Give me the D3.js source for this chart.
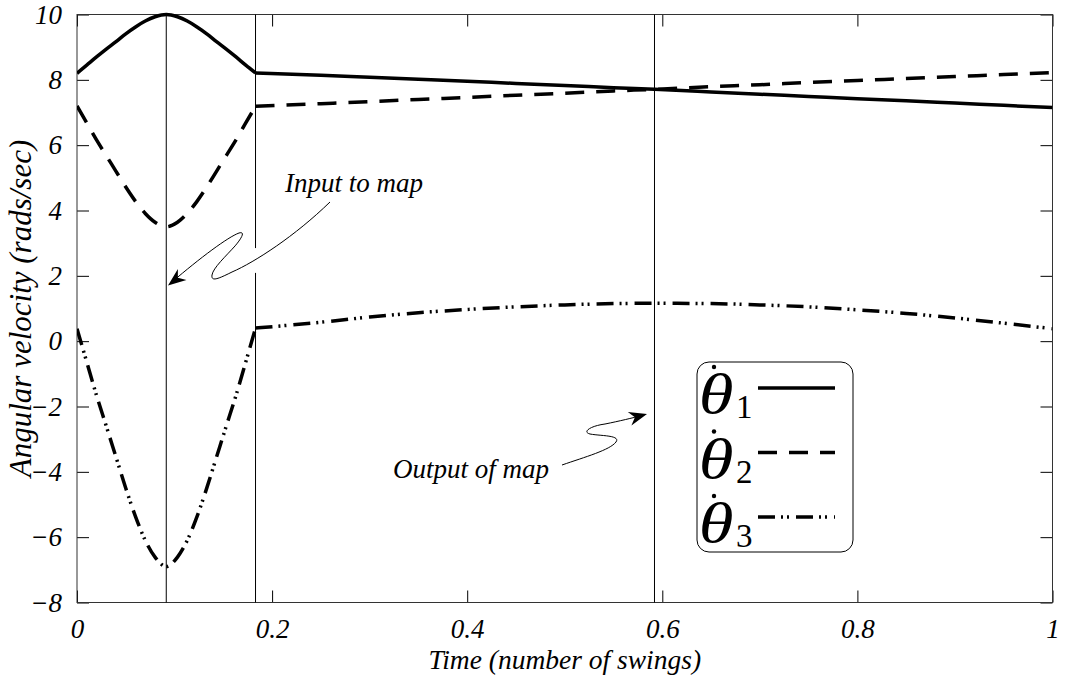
<!DOCTYPE html>
<html>
<head>
<meta charset="utf-8">
<script src="https://cdn.jsdelivr.net/npm/d3@7"></script>
<style>
  body { margin: 0; background: #fff; }
  svg { display: block; }
</style>
</head>
<body>
<svg id="chart" width="1068" height="681"></svg>
<script>
// Time axis samples (number of swings)
const time = [0, 0.01, 0.02, 0.03, 0.04, 0.05, 0.06, 0.07, 0.08, 0.0915,
  0.103, 0.113, 0.123, 0.133, 0.143, 0.153, 0.163, 0.173, 0.183,
  0.25, 0.3, 0.35, 0.4, 0.45, 0.5, 0.55, 0.592, 0.65, 0.7, 0.75, 0.8, 0.85, 0.9, 0.95, 1.0];

// Angular velocities (rads/sec)
const theta1 = [8.20, 8.45, 8.70, 8.94, 9.17, 9.41, 9.62, 9.80, 9.93, 10.0,
  9.93, 9.80, 9.62, 9.41, 9.17, 8.94, 8.70, 8.45, 8.21,
  8.14, 8.08, 8.02, 7.96, 7.89, 7.83, 7.76, 7.71, 7.63, 7.56, 7.49, 7.42, 7.36, 7.29, 7.22, 7.15];
const theta2 = [7.20, 6.68, 6.16, 5.68, 5.20, 4.72, 4.28, 3.91, 3.64, 3.50,
  3.64, 3.91, 4.28, 4.72, 5.20, 5.68, 6.16, 6.68, 7.19,
  7.27, 7.33, 7.40, 7.46, 7.53, 7.59, 7.66, 7.71, 7.79, 7.85, 7.92, 7.98, 8.04, 8.10, 8.16, 8.22];
const theta3 = [0.38, -0.64, -1.66, -2.60, -3.55, -4.50, -5.37, -6.10, -6.61, -6.90,
  -6.61, -6.10, -5.37, -4.50, -3.55, -2.60, -1.66, -0.64, 0.40,
  0.58, 0.74, 0.87, 0.97, 1.05, 1.11, 1.15, 1.16, 1.15, 1.11, 1.05, 0.96, 0.85, 0.71, 0.55, 0.38];

const seriesLabels = ["1", "2", "3"];
const xTicks = [0, 0.2, 0.4, 0.6, 0.8, 1];
const yTicks = [-8, -6, -4, -2, 0, 2, 4, 6, 8, 10];

// Event times marked with vertical lines; the impact splits each curve
const markerTimes = [0.0915, 0.183, 0.592];
const impactTime = 0.183;
// Break in the impact line where the annotation arrow passes (in rads/sec)
const impactGap = [2.09, 2.85];

const FONT = '"Liberation Serif", "Times New Roman", serif';
const svg = d3.select("#chart");
const m = { left: 77, right: 1052.5, top: 14.5, bottom: 602.5 };

const x = d3.scaleLinear().domain([0, 1]).range([m.left, m.right]);
const y = d3.scaleLinear().domain([-8, 10]).range([m.bottom, m.top]);
const fmt = d3.format("~g");

// Axes with inward ticks on all four sides
function styleAxis(g) {
  g.select(".domain").remove();
  g.attr("font-family", FONT).attr("font-size", 27);
  g.selectAll(".tick line").attr("stroke", "#000").attr("stroke-width", 1);
  g.selectAll(".tick text").attr("font-style", "italic").attr("fill", "#000");
}
svg.append("g").attr("transform", `translate(${m.left},0)`)
  .call(d3.axisLeft(y).tickValues(yTicks).tickFormat(fmt).tickSizeInner(-12).tickSizeOuter(0).tickPadding(15))
  .call(styleAxis);
svg.append("g").attr("transform", `translate(${m.right},0)`)
  .call(d3.axisRight(y).tickValues(yTicks).tickFormat("").tickSizeInner(-12).tickSizeOuter(0))
  .call(styleAxis);
svg.append("g").attr("transform", `translate(0,${m.bottom})`)
  .call(d3.axisBottom(x).tickValues(xTicks).tickFormat(fmt).tickSizeInner(-12).tickSizeOuter(0).tickPadding(16))
  .call(styleAxis);
svg.append("g").attr("transform", `translate(0,${m.top})`)
  .call(d3.axisTop(x).tickValues(xTicks).tickFormat("").tickSizeInner(-12).tickSizeOuter(0))
  .call(styleAxis);

// Plot frame
svg.append("rect")
  .attr("x", m.left).attr("y", m.top)
  .attr("width", m.right - m.left).attr("height", m.bottom - m.top)
  .attr("fill", "none").attr("stroke", "#333").attr("stroke-width", 1);

// Axis titles
svg.append("text")
  .attr("x", (m.left + m.right) / 2).attr("y", 669)
  .attr("text-anchor", "middle")
  .attr("font-family", FONT).attr("font-style", "italic").attr("font-size", 27.5)
  .text("Time (number of swings)");
svg.append("text")
  .attr("transform", `translate(31,${(m.top + m.bottom) / 2}) rotate(-90)`)
  .attr("text-anchor", "middle")
  .attr("font-family", FONT).attr("font-style", "italic").attr("font-size", 31)
  .text("Angular velocity (rads/sec)");

// Vertical event lines
markerTimes.forEach(t => {
  const pieces = t === impactTime
    ? [[10, impactGap[1]], [impactGap[0], -8]]
    : [[10, -8]];
  pieces.forEach(([a, b]) => {
    svg.append("line")
      .attr("x1", x(t)).attr("x2", x(t))
      .attr("y1", y(a)).attr("y2", y(b))
      .attr("stroke", "#000").attr("stroke-width", 1);
  });
});

// Curves
svg.append("clipPath").attr("id", "plot-clip")
  .append("rect").attr("x", m.left).attr("y", m.top - 3)
  .attr("width", m.right - m.left).attr("height", m.bottom - m.top + 3);

const styles = [
  { values: theta1, dash: null },
  { values: theta2, dash: "19,12" },
  { values: theta3, dash: "17,6,2,4,2,7" }
];
const line = d3.line().x(d => x(d[0])).y(d => y(d[1])).curve(d3.curveMonotoneX);
const plot = svg.append("g").attr("clip-path", "url(#plot-clip)");
styles.forEach(s => {
  const pts = time.map((t, i) => [t, s.values[i]]);
  const segs = [pts.filter(p => p[0] <= impactTime), pts.filter(p => p[0] >= impactTime)];
  segs.forEach(seg => {
    plot.append("path")
      .attr("d", line(seg))
      .attr("fill", "none").attr("stroke", "#000")
      .attr("stroke-width", 3.5)
      .attr("stroke-dasharray", s.dash)
      .attr("stroke-linejoin", "round");
  });
});

// Annotations
function arrowHead(tx, ty, angleDeg) {
  svg.append("path")
    .attr("d", "M0,0 L-18,-7 L-12.5,0 L-18,7 Z")
    .attr("transform", `translate(${tx},${ty}) rotate(${angleDeg})`)
    .attr("fill", "#000");
}
svg.append("text")
  .attr("x", 285).attr("y", 192)
  .attr("font-family", FONT).attr("font-style", "italic").attr("font-size", 27)
  .text("Input to map");
svg.append("path")
  .attr("d", "M330,202 C295,236 255,262 232,272 C218,279 211,282 212,275 C213,268 226,256 235,246 C241,239 246,231 239,233 C228,237 200,258 172,282")
  .attr("fill", "none").attr("stroke", "#000").attr("stroke-width", 1);
arrowHead(168, 285.5, 142);

svg.append("text")
  .attr("x", 393).attr("y", 478)
  .attr("font-family", FONT).attr("font-style", "italic").attr("font-size", 27)
  .text("Output of map");
svg.append("path")
  .attr("d", "M562,465 C585,457 610,450 616,442 C621,435 600,436 590,434 C582,432 590,426 605,424 C620,421 632,418 642,415.5")
  .attr("fill", "none").attr("stroke", "#000").attr("stroke-width", 1);
arrowHead(647, 414, -15);

// Legend
const lg = svg.append("g").attr("transform", "translate(697,362)");
lg.append("rect").attr("width", 156).attr("height", 190).attr("rx", 12).attr("ry", 12)
  .attr("fill", "#fff").attr("stroke", "#000").attr("stroke-width", 1);
styles.forEach((s, i) => {
  const base = 51 + i * 64.5;
  const row = lg.append("g").attr("transform", `translate(0,${base})`);
  row.append("text").attr("x", 1.5).attr("y", 0)
    .attr("transform", "scale(1.22,1)")
    .attr("font-family", FONT).attr("font-style", "italic").attr("font-size", 58)
    .text("θ");
  row.append("circle").attr("cx", 17).attr("cy", -46).attr("r", 2.2).attr("fill", "#000");
  row.append("text").attr("x", 39).attr("y", 5)
    .attr("font-family", FONT).attr("font-size", 33)
    .text(seriesLabels[i]);
  row.append("line").attr("x1", 61).attr("x2", 138).attr("y1", -25).attr("y2", -25)
    .attr("stroke", "#000").attr("stroke-width", 3.5)
    .attr("stroke-dasharray", s.dash);
});
</script>
</body>
</html>
